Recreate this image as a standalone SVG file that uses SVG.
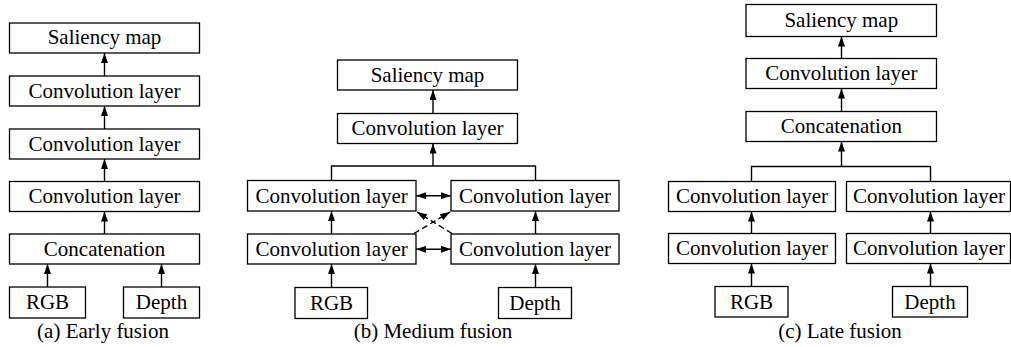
<svg xmlns="http://www.w3.org/2000/svg" width="1011" height="347" viewBox="0 0 1011 347">
<style>
.n rect{fill:#fff;stroke:#000;stroke-width:1.3}
text{font-family:"Liberation Serif","Times New Roman",serif;font-size:21px;fill:#000;text-anchor:middle}
.c line,.c path{stroke:#000;stroke-width:1.4;fill:none}
.a{marker-end:url(#ah)}
.d{marker-start:url(#ah);marker-end:url(#ah)}
.ds{stroke-dasharray:6 3.5}
</style>
<defs>
<marker id="ah" viewBox="0 0 10 7" refX="10" refY="3.5" markerWidth="10" markerHeight="7" markerUnits="userSpaceOnUse" orient="auto-start-reverse">
<path d="M0,0 L10,3.5 L0,7 z" fill="#000"/>
</marker>
</defs>
<rect width="1011" height="347" fill="#fff"/>

<!-- Panel a -->
<g id="a-saliency" class="n"><rect x="9.5" y="23" width="190" height="30"/><text x="104.5" y="44">Saliency map</text></g>
<g id="a-conv1" class="n"><rect x="9.5" y="76" width="190" height="30"/><text x="104.5" y="97.5">Convolution layer</text></g>
<g id="a-conv2" class="n"><rect x="9.5" y="129" width="190" height="30"/><text x="104.5" y="150.5">Convolution layer</text></g>
<g id="a-conv3" class="n"><rect x="9.5" y="181.5" width="190" height="30"/><text x="104.5" y="203">Convolution layer</text></g>
<g id="a-concat" class="n"><rect x="9.5" y="234" width="190" height="30"/><text x="104.5" y="255.5">Concatenation</text></g>
<g id="a-rgb" class="n"><rect x="9.5" y="287" width="76" height="31"/><text x="47.5" y="309">RGB</text></g>
<g id="a-depth" class="n"><rect x="123.5" y="287" width="76" height="31"/><text x="161.5" y="309">Depth</text></g>
<text x="103" y="338">(a) Early fusion</text>

<!-- Panel b -->
<g id="b-saliency" class="n"><rect x="337.5" y="60" width="180" height="30"/><text x="427.5" y="81.5">Saliency map</text></g>
<g id="b-conv-top" class="n"><rect x="337.5" y="113.5" width="180" height="30"/><text x="427.5" y="135">Convolution layer</text></g>
<g id="b-l1" class="n"><rect x="247.5" y="180.5" width="168.5" height="30.5"/><text x="331.7" y="202.5">Convolution layer</text></g>
<g id="b-r1" class="n"><rect x="451" y="180.5" width="168" height="30.5"/><text x="535" y="202.5">Convolution layer</text></g>
<g id="b-l2" class="n"><rect x="247.5" y="234" width="168.5" height="30"/><text x="331.7" y="255.5">Convolution layer</text></g>
<g id="b-r2" class="n"><rect x="451" y="234" width="168" height="30"/><text x="535" y="255.5">Convolution layer</text></g>
<g id="b-rgb" class="n"><rect x="295" y="287.5" width="72.5" height="31"/><text x="331.5" y="309.5">RGB</text></g>
<g id="b-depth" class="n"><rect x="498.5" y="287.5" width="73" height="31"/><text x="535" y="309.5">Depth</text></g>
<text x="433" y="338">(b) Medium fusion</text>

<!-- Panel c -->
<g id="c-saliency" class="n"><rect x="746" y="4.5" width="190.5" height="32"/><text x="841.3" y="27">Saliency map</text></g>
<g id="c-conv-top" class="n"><rect x="746" y="58.5" width="190.5" height="30"/><text x="841.3" y="80">Convolution layer</text></g>
<g id="c-concat" class="n"><rect x="746" y="111.5" width="190.5" height="30"/><text x="841.3" y="133">Concatenation</text></g>
<g id="c-l1" class="n"><rect x="668.5" y="181.5" width="167" height="30"/><text x="752" y="203">Convolution layer</text></g>
<g id="c-r1" class="n"><rect x="846.5" y="181.5" width="164" height="30"/><text x="929" y="203">Convolution layer</text></g>
<g id="c-l2" class="n"><rect x="668.5" y="233.5" width="167" height="30"/><text x="752" y="255">Convolution layer</text></g>
<g id="c-r2" class="n"><rect x="846.5" y="233.5" width="164" height="30"/><text x="929" y="255">Convolution layer</text></g>
<g id="c-rgb" class="n"><rect x="715" y="286.5" width="73" height="30.5"/><text x="751.5" y="308.5">RGB</text></g>
<g id="c-depth" class="n"><rect x="892.5" y="286.5" width="75" height="30.5"/><text x="930" y="308.5">Depth</text></g>
<text x="840" y="338">(c) Late fusion</text>

<g id="connectors" class="c">
<!-- a -->
<line class="a" x1="104.5" y1="76" x2="104.5" y2="53"/>
<line class="a" x1="104.5" y1="129" x2="104.5" y2="106"/>
<line class="a" x1="104.5" y1="181.5" x2="104.5" y2="159"/>
<line class="a" x1="104.5" y1="234" x2="104.5" y2="211.5"/>
<line class="a" x1="47.5" y1="287" x2="47.5" y2="264"/>
<line class="a" x1="161.5" y1="287" x2="161.5" y2="264"/>
<!-- b -->
<line class="a" x1="433" y1="113.5" x2="433" y2="90"/>
<path d="M331.5,180.5 V166 H535.5 V180.5"/>
<line class="a" x1="433" y1="166" x2="433" y2="143.5"/>
<line class="a" x1="331.5" y1="287.5" x2="331.5" y2="264"/>
<line class="a" x1="331.5" y1="234" x2="331.5" y2="211"/>
<line class="a" x1="535.5" y1="287.5" x2="535.5" y2="264"/>
<line class="a" x1="535.5" y1="234" x2="535.5" y2="211"/>
<line class="d" x1="416" y1="195.7" x2="451" y2="195.7"/>
<line class="d" x1="416" y1="249.3" x2="451" y2="249.3"/>
<line class="a ds" x1="414" y1="233.5" x2="450" y2="212"/>
<line class="a ds" x1="452" y1="233.5" x2="417" y2="212"/>
<!-- c -->
<line class="a" x1="841.5" y1="58.5" x2="841.5" y2="36.5"/>
<line class="a" x1="841.5" y1="111.5" x2="841.5" y2="88.5"/>
<path d="M751.5,181.5 V166.5 H930.5 V181.5"/>
<line class="a" x1="841.5" y1="166.5" x2="841.5" y2="141.5"/>
<line class="a" x1="751.5" y1="286.5" x2="751.5" y2="263.5"/>
<line class="a" x1="751.5" y1="233.5" x2="751.5" y2="211.5"/>
<line class="a" x1="930.5" y1="286.5" x2="930.5" y2="263.5"/>
<line class="a" x1="930.5" y1="233.5" x2="930.5" y2="211.5"/>
</g>
</svg>
